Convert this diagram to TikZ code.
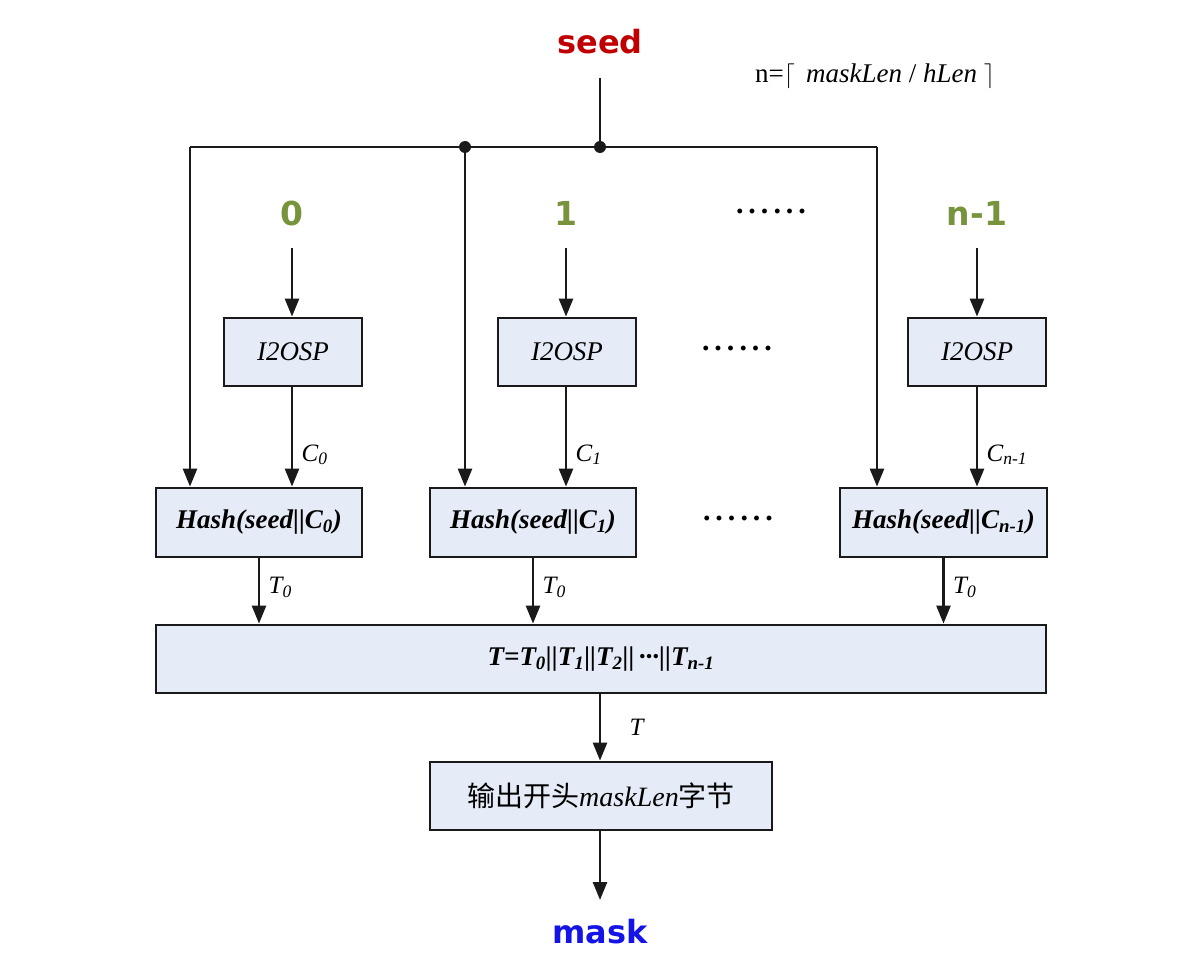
\documentclass[tikz,border=0pt]{standalone}
\usepackage{fontspec}
\setmainfont{Liberation Serif}
\newfontfamily\vsans{DejaVu Sans}
\newfontfamily\cjk{Noto Sans CJK SC}
\usetikzlibrary{arrows.meta}
\definecolor{seedred}{HTML}{C00000}
\definecolor{numgreen}{HTML}{77933C}
\definecolor{maskblue}{HTML}{1414E6}
\definecolor{boxfill}{HTML}{E6ECF7}
\definecolor{edge}{HTML}{1A1A1A}
\newcommand{\sub}[1]{\textsubscript{#1}}
\newcommand{\sixdots}{.\kern5pt.\kern5pt.\kern5pt.\kern5pt.\kern5pt.}
\tikzset{
  box/.style={draw=edge, line width=2.8pt, fill=boxfill, inner sep=0pt, minimum height=68pt},
  conn/.style={line width=2.6pt, draw=edge, -{Triangle[width=14pt,length=18pt]}},
  wire/.style={line width=2.6pt, draw=edge},
  junction/.style={circle, fill=edge, inner sep=0pt, minimum size=12pt},
  bigsans/.style={font=\vsans\bfseries\fontsize{32}{36}\selectfont},
  numlbl/.style={font=\vsans\bfseries\fontsize{33}{38}\selectfont, text=numgreen},
  elabel/.style={font=\itshape\fontsize{25}{29}\selectfont, anchor=west, xshift=5pt},
  dots/.style={font=\bfseries\fontsize{30}{34}\selectfont},
  hashfont/.style={font=\bfseries\itshape\fontsize{27}{31}\selectfont}
}
\begin{document}
\begin{tikzpicture}[x=1pt,y=-1pt]
\useasboundingbox (0,0) rectangle (1200,976);
% top
\node[bigsans, text=seedred] (seed) at (600,42) {seed};
\node[font=\fontsize{27}{32}\selectfont] (nform) at (875,76) {n=$\lceil$\, \textit{maskLen} / \textit{hLen} $\rceil$};
\coordinate (s0) at (600,78);
\coordinate (tl) at (190,147);
\node[junction] (jb) at (465,147) {};
\node[junction] (js) at (600,147) {};
\coordinate (tr) at (877,147);
\draw[wire] (s0) -- (js);
\draw[wire] (tl) -- (tr);
% numbers
\node[numlbl] (d0) at (292,213) {0};
\node[numlbl] (d1) at (566,213) {1};
\node[numlbl] (dn) at (977,213) {n-1};
\node[dots] (e1) at (771,211) {\sixdots};
\node[dots] (e2) at (737,348) {\sixdots};
\node[dots] (e3) at (738,518) {\sixdots};
\coordinate (a0) at (292,248);
\coordinate (a1) at (566,248);
\coordinate (an) at (977,248);
% I2OSP boxes
\node[box, minimum width=138pt, font=\itshape\fontsize{27}{31}\selectfont] (I0) at (293,352) {I2OSP};
\node[box, minimum width=138pt, font=\itshape\fontsize{27}{31}\selectfont] (I1) at (567,352) {I2OSP};
\node[box, minimum width=138pt, font=\itshape\fontsize{27}{31}\selectfont] (In) at (977,352) {I2OSP};
% Hash boxes
\node[box, hashfont, minimum width=206pt, minimum height=69pt] (H0) at (259,522.5) {Hash(seed||C\sub{0})};
\node[box, hashfont, minimum width=206pt, minimum height=69pt] (H1) at (533,522.5) {Hash(seed||C\sub{1})};
\node[box, hashfont, minimum width=207pt, minimum height=69pt] (Hn) at (943.5,522.5) {Hash(seed||C\sub{n-1})};
% T box
\node[box, hashfont, minimum width=890pt] (T) at (601,659) {T=T\sub{0}||T\sub{1}||T\sub{2}||\,\textperiodcentered\textperiodcentered\textperiodcentered||T\sub{n-1}};
% output box
\node[box, minimum width=342pt, font=\fontsize{28}{32}\selectfont] (O) at (601,796) {{\cjk 输出开头}\textit{maskLen}{\cjk 字节}};
\node[bigsans, text=maskblue] (mask) at (600,932) {mask};
\coordinate (m0) at (600,900);
% arrows
\draw[conn] (tl) -- (tl |- H0.north);
\draw[conn] (jb) -- (jb |- H1.north);
\draw[conn] (tr) -- (tr |- Hn.north);
\draw[conn] (a0) -- (a0 |- I0.north);
\draw[conn] (a1) -- (a1 |- I1.north);
\draw[conn] (an) -- (an |- In.north);
\draw[conn] (I0.south -| a0) -- (a0 |- H0.north) node[elabel, pos=0.68] {C\sub{0}};
\draw[conn] (I1.south -| a1) -- (a1 |- H1.north) node[elabel, pos=0.68] {C\sub{1}};
\draw[conn] (In.south -| an) -- (an |- Hn.north) node[elabel, pos=0.68] {C\sub{n-1}};
\draw[conn] (H0.south) -- (H0.south |- T.north) node[elabel, pos=0.45] {T\sub{0}};
\draw[conn] (H1.south) -- (H1.south |- T.north) node[elabel, pos=0.45] {T\sub{0}};
\draw[conn] (Hn.south) -- (Hn.south |- T.north) node[elabel, pos=0.45] {T\sub{0}};
\draw[conn] (T.south -| s0) -- (s0 |- O.north) node[elabel, pos=0.5, xshift=20pt] {T};
\draw[conn] (O.south -| s0) -- (m0);
\end{tikzpicture}
\end{document}
